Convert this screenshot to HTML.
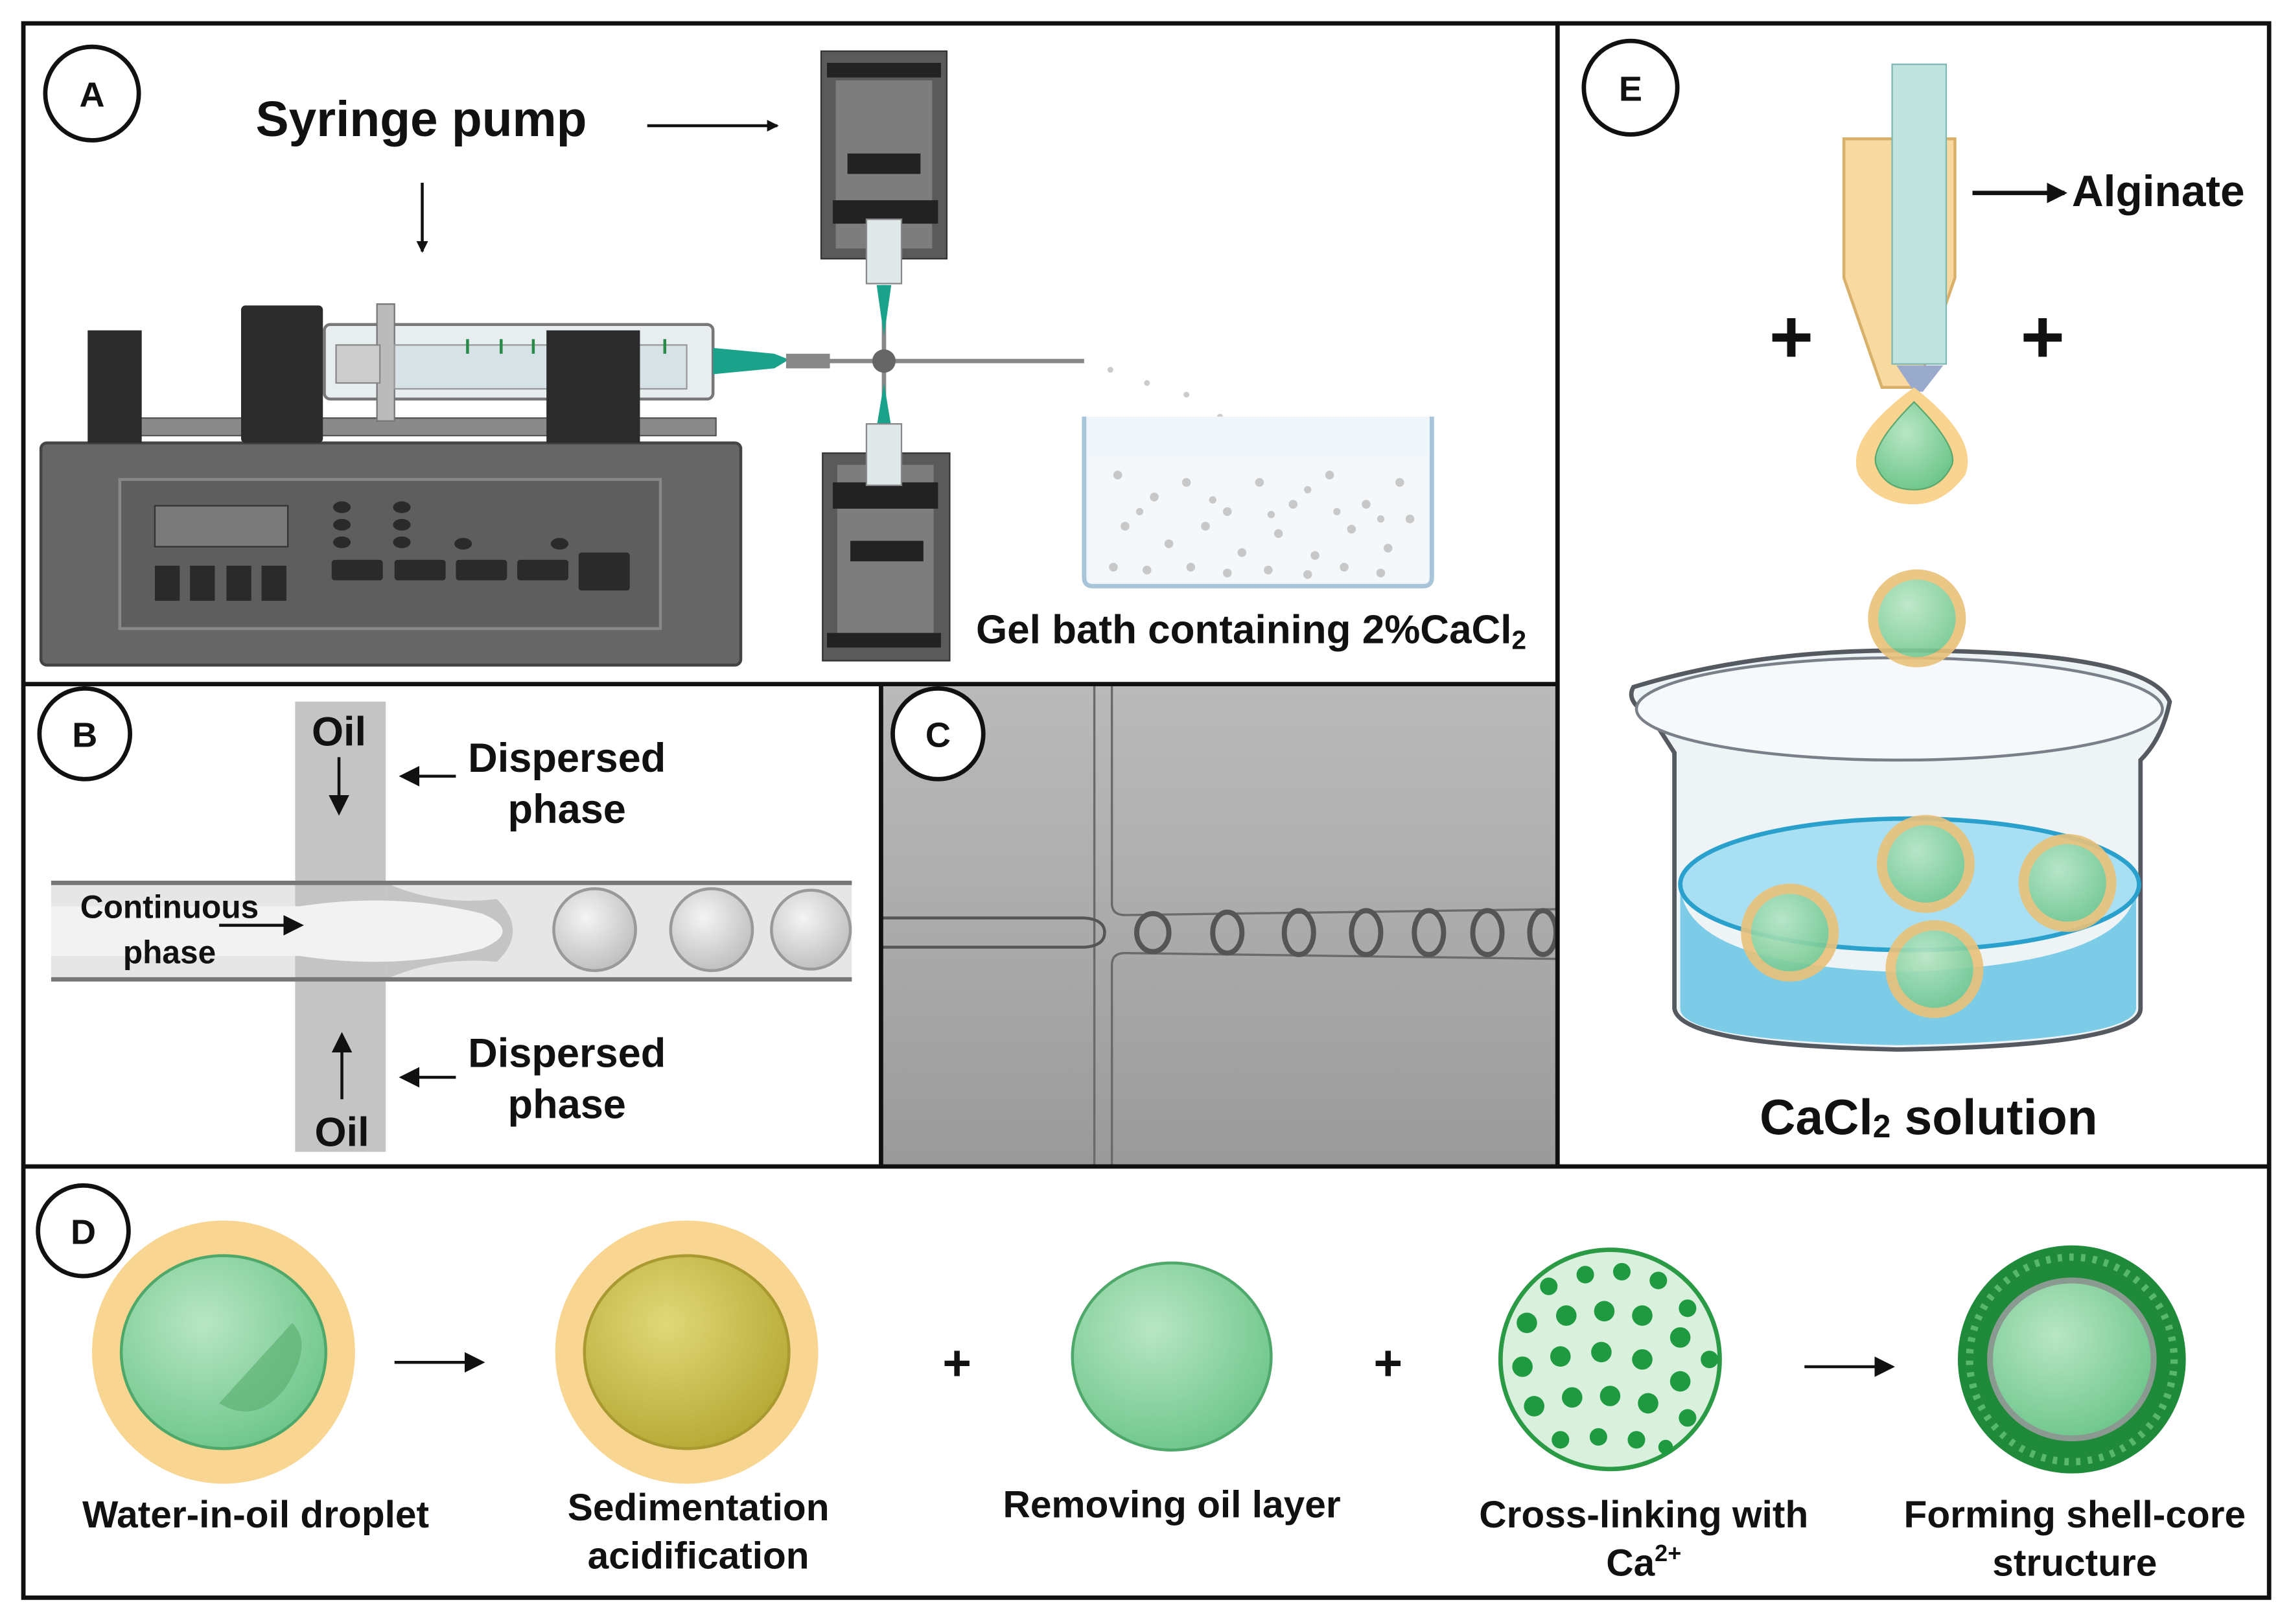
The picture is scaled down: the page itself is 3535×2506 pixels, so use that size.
<!DOCTYPE html>
<html><head><meta charset="utf-8"><style>html,body{margin:0;padding:0;background:#fff}svg{display:block}text{font-family:"Liberation Sans",sans-serif;font-weight:bold;fill:#111}</style></head>
<body>
<svg width="3535" height="2506" viewBox="0 0 1568 1111" preserveAspectRatio="none" xmlns="http://www.w3.org/2000/svg">
<defs>
<marker id="ah" markerWidth="8" markerHeight="8" refX="7" refY="4" orient="auto" markerUnits="userSpaceOnUse"><path d="M0,0 L8,4 L0,8 z" fill="#111"/></marker>
<marker id="ahb" markerWidth="14" markerHeight="14" refX="12" refY="7" orient="auto" markerUnits="userSpaceOnUse"><path d="M0,0 L14,7 L0,14 z" fill="#111"/></marker>
<radialGradient id="gr" cx="0.4" cy="0.35" r="0.7"><stop offset="0" stop-color="#b8e6c4"/><stop offset="1" stop-color="#6cc58a"/></radialGradient>
<radialGradient id="yl" cx="0.4" cy="0.35" r="0.7"><stop offset="0" stop-color="#e0d878"/><stop offset="1" stop-color="#b5a834"/></radialGradient>
<linearGradient id="cg" x1="0" y1="0" x2="0" y2="1"><stop offset="0" stop-color="#bababa"/><stop offset="0.5" stop-color="#ababab"/><stop offset="1" stop-color="#9a9a9a"/></linearGradient>
<radialGradient id="dr" cx="0.4" cy="0.35" r="0.7"><stop offset="0" stop-color="#f4f4f4"/><stop offset="1" stop-color="#bdbdbd"/></radialGradient>
</defs>
<rect width="1568" height="1111" fill="#fff"/>

<!-- Panel C background -->
<rect x="603" y="468" width="463" height="330" fill="url(#cg)"/>
<path d="M749,468 V798 M761,468 V618 Q761,626 770,626 L1066,622 M761,798 V660 Q761,652 770,652 L1066,656" stroke="#6a6a6a" stroke-width="1.5" fill="none"/>
<path d="M603,628 H742 Q756,629 756,638 Q756,647 742,648 H603" fill="none" stroke="#555" stroke-width="2"/>
<g fill="none" stroke="#555" stroke-width="3.5">
<ellipse cx="789" cy="638" rx="11" ry="13"/><ellipse cx="840" cy="638" rx="10" ry="14"/><ellipse cx="889" cy="638" rx="10" ry="15"/><ellipse cx="935" cy="638" rx="10" ry="15"/><ellipse cx="978" cy="638" rx="10" ry="15"/><ellipse cx="1018" cy="638" rx="10" ry="15"/><ellipse cx="1056" cy="638" rx="9" ry="15"/>
</g>

<!-- Panel borders -->
<g fill="none" stroke="#111" stroke-width="3">
<rect x="16" y="16" width="1537" height="1077"/>
<line x1="1066" y1="16" x2="1066" y2="798"/>
<line x1="16" y1="468" x2="1066" y2="468"/>
<line x1="603" y1="468" x2="603" y2="798"/>
<line x1="16" y1="798" x2="1553" y2="798"/>
</g>
<g fill="#fff" stroke="#111" stroke-width="3">
<circle cx="63" cy="64" r="32"/><circle cx="58" cy="502" r="31"/><circle cx="642" cy="502" r="31"/><circle cx="1116" cy="60" r="32"/><circle cx="57" cy="842" r="31"/>
</g>
<g font-size="24" text-anchor="middle"><text x="63" y="73">A</text><text x="58" y="511">B</text><text x="642" y="511">C</text><text x="1116" y="69">E</text><text x="57" y="851">D</text></g>

<!-- Panel A -->
<text x="175" y="93" font-size="34">Syringe pump</text>
<line x1="443" y1="86" x2="532" y2="86" stroke="#111" stroke-width="2" marker-end="url(#ah)"/>
<line x1="289" y1="125" x2="289" y2="172" stroke="#111" stroke-width="2" marker-end="url(#ah)"/>
<rect x="28" y="303" width="479" height="152" rx="4" fill="#666" stroke="#444" stroke-width="2"/>
<rect x="82" y="328" width="370" height="102" fill="#5e5e5e" stroke="#888" stroke-width="2"/>
<rect x="106" y="346" width="91" height="28" fill="#7a7a7a" stroke="#333"/>
<g fill="#2a2a2a"><rect x="106" y="387" width="17" height="24"/><rect x="130" y="387" width="17" height="24"/><rect x="155" y="387" width="17" height="24"/><rect x="179" y="387" width="17" height="24"/>
<rect x="227" y="383" width="35" height="14" rx="2"/><rect x="270" y="383" width="35" height="14" rx="2"/><rect x="312" y="383" width="35" height="14" rx="2"/><rect x="354" y="383" width="35" height="14" rx="2"/><rect x="396" y="378" width="35" height="26" rx="2"/>
<ellipse cx="234" cy="347" rx="6" ry="4"/><ellipse cx="234" cy="359" rx="6" ry="4"/><ellipse cx="234" cy="371" rx="6" ry="4"/><ellipse cx="275" cy="347" rx="6" ry="4"/><ellipse cx="275" cy="359" rx="6" ry="4"/><ellipse cx="275" cy="371" rx="6" ry="4"/><ellipse cx="317" cy="372" rx="6" ry="4"/><ellipse cx="383" cy="372" rx="6" ry="4"/></g>
<rect x="95" y="286" width="395" height="12" fill="#8a8a8a" stroke="#555"/>
<rect x="222" y="222" width="266" height="51" rx="4" fill="#e8eef0" stroke="#777" stroke-width="2"/>
<rect x="258" y="208" width="12" height="80" fill="#bbb" stroke="#777"/>
<rect x="230" y="236" width="30" height="26" fill="#ccc" stroke="#888"/>
<rect x="270" y="236" width="200" height="30" fill="#d7e2e6" stroke="#999"/>
<g stroke="#2a8a4a" stroke-width="2"><line x1="320" y1="232" x2="320" y2="242"/><line x1="343" y1="232" x2="343" y2="242"/><line x1="365" y1="232" x2="365" y2="242"/><line x1="455" y1="232" x2="455" y2="242"/></g>
<rect x="60" y="226" width="37" height="77" fill="#2b2b2b"/>
<rect x="165" y="209" width="56" height="94" rx="3" fill="#2b2b2b"/>
<rect x="374" y="226" width="64" height="77" fill="#2b2b2b"/>
<path d="M488,238 L530,242 L540,246 L530,252 L488,256 z" fill="#1aa38a"/>
<rect x="538" y="242" width="30" height="10" fill="#888"/>
<line x1="560" y1="247" x2="742" y2="247" stroke="#888" stroke-width="3"/>
<line x1="605" y1="195" x2="605" y2="295" stroke="#888" stroke-width="3"/>
<circle cx="605" cy="247" r="8" fill="#666"/>
<path d="M600,195 L605,230 L610,195 z" fill="#1aa38a"/><path d="M600,292 L605,262 L610,292 z" fill="#1aa38a"/>
<rect x="562" y="35" width="86" height="142" fill="#5a5a5a" stroke="#333"/><rect x="572" y="55" width="66" height="115" fill="#7d7d7d"/>
<rect x="566" y="43" width="78" height="10" fill="#222"/><rect x="580" y="105" width="50" height="14" fill="#222"/><rect x="570" y="137" width="72" height="16" fill="#222"/>
<rect x="593" y="150" width="24" height="44" fill="#e0e8ea" stroke="#888"/>
<rect x="563" y="310" width="87" height="142" fill="#5a5a5a" stroke="#333"/><rect x="573" y="318" width="66" height="115" fill="#7d7d7d"/>
<rect x="570" y="330" width="72" height="18" fill="#222"/><rect x="582" y="370" width="50" height="14" fill="#222"/><rect x="566" y="433" width="78" height="10" fill="#222"/>
<rect x="593" y="290" width="24" height="42" fill="#e0e8ea" stroke="#888"/>
<g fill="#ccc"><circle cx="760" cy="253" r="2"/><circle cx="785" cy="262" r="2"/><circle cx="812" cy="270" r="2"/><circle cx="835" cy="285" r="2"/><circle cx="858" cy="302" r="2.5"/></g>
<path d="M742,285 V395 Q742,401 748,401 H974 Q980,401 980,395 V285" fill="#eef6fb" stroke="#a8c4d8" stroke-width="3"/>
<rect x="745" y="312" width="232" height="86" fill="#f4f8fb"/>
<g fill="#c8c8c8">
<circle cx="765" cy="325" r="3"/><circle cx="790" cy="340" r="3"/><circle cx="812" cy="330" r="3"/><circle cx="840" cy="350" r="3"/><circle cx="862" cy="330" r="3"/><circle cx="885" cy="345" r="3"/><circle cx="910" cy="325" r="3"/><circle cx="935" cy="345" r="3"/><circle cx="958" cy="330" r="3"/>
<circle cx="770" cy="360" r="3"/><circle cx="800" cy="372" r="3"/><circle cx="825" cy="360" r="3"/><circle cx="850" cy="378" r="3"/><circle cx="875" cy="365" r="3"/><circle cx="900" cy="380" r="3"/><circle cx="925" cy="362" r="3"/><circle cx="950" cy="375" r="3"/><circle cx="965" cy="355" r="3"/>
<circle cx="762" cy="388" r="3"/><circle cx="785" cy="390" r="3"/><circle cx="815" cy="388" r="3"/><circle cx="840" cy="392" r="3"/><circle cx="868" cy="390" r="3"/><circle cx="895" cy="393" r="3"/><circle cx="920" cy="388" r="3"/><circle cx="945" cy="392" r="3"/>
<circle cx="780" cy="350" r="2.5"/><circle cx="830" cy="342" r="2.5"/><circle cx="870" cy="352" r="2.5"/><circle cx="915" cy="350" r="2.5"/><circle cx="945" cy="355" r="2.5"/><circle cx="895" cy="335" r="2.5"/>
</g>
<text x="668" y="440" font-size="27.5">Gel bath containing 2%CaCl<tspan font-size="18" dy="4">2</tspan></text>

<!-- Panel B -->
<rect x="202" y="480" width="62" height="308" fill="#c4c4c4"/>
<rect x="35" y="604" width="548" height="66" fill="#e6e6e6"/>
<rect x="202" y="604" width="62" height="66" fill="#c4c4c4"/>
<path d="M264,604 Q300,620 340,615 Q362,637 340,658 Q300,654 264,670 Z" fill="#c4c4c4"/>
<path d="M35,620 H205 Q270,610 330,625 Q358,637 330,649 Q270,664 205,654 H35 Z" fill="#f2f2f2"/>
<line x1="35" y1="604" x2="583" y2="604" stroke="#777" stroke-width="3"/><line x1="35" y1="670" x2="583" y2="670" stroke="#777" stroke-width="3"/>
<g stroke="#999" stroke-width="2" fill="url(#dr)"><circle cx="407" cy="636" r="28"/><circle cx="487" cy="636" r="28"/><circle cx="555" cy="636" r="27"/></g>
<g font-size="28" text-anchor="middle"><text x="232" y="510">Oil</text><text x="234" y="784">Oil</text>
<text x="388" y="528">Dispersed</text><text x="388" y="563">phase</text><text x="388" y="730">Dispersed</text><text x="388" y="765">phase</text></g>
<g font-size="22" text-anchor="middle"><text x="116" y="628">Continuous</text><text x="116" y="659">phase</text></g>
<g stroke="#111" stroke-width="2"><line x1="232" y1="518" x2="232" y2="556" marker-end="url(#ahb)"/><line x1="234" y1="752" x2="234" y2="708" marker-end="url(#ahb)"/>
<line x1="312" y1="531" x2="275" y2="531" marker-end="url(#ahb)"/><line x1="312" y1="737" x2="275" y2="737" marker-end="url(#ahb)"/>
<line x1="150" y1="633" x2="206" y2="633" marker-end="url(#ahb)"/></g>

<!-- Panel E -->
<path d="M1262,95 H1338 V190 L1312,265 H1288 L1262,190 Z" fill="#f8d9a0" stroke="#d9b06a" stroke-width="2"/>
<rect x="1295" y="44" width="37" height="205" fill="#bfe4e0" stroke="#7fb8b2"/>
<path d="M1298,250 H1330 L1316,268 H1310 Z" fill="#9ac"/>
<path d="M1310,265 Q1355,300 1345,325 Q1330,345 1310,345 Q1285,345 1272,325 Q1262,300 1310,265 Z" fill="#f8d490"/>
<path d="M1310,275 Q1340,305 1336,318 Q1328,335 1310,335 Q1290,335 1284,318 Q1280,305 1310,275 Z" fill="url(#gr)" stroke="#5aa870"/>
<text x="1418" y="141" font-size="30">Alginate</text>
<line x1="1350" y1="132" x2="1413" y2="132" stroke="#111" stroke-width="3" marker-end="url(#ahb)"/>
<g font-size="52" text-anchor="middle"><text x="1226" y="248">+</text><text x="1398" y="248">+</text></g>
<path d="M1130,490 Q1112,480 1118,470 Q1200,445 1300,445 Q1470,445 1485,480 Q1480,505 1465,520 V690 Q1465,715 1300,718 Q1150,715 1146,690 V515 Z" fill="#eef3f6" stroke="#555a60" stroke-width="3"/>
<ellipse cx="1300" cy="485" rx="180" ry="35" fill="#f6f9fb" stroke="#7a8088" stroke-width="2"/>
<path d="M1150,605 Q1152,660 1300,665 Q1462,660 1462,605 V690 Q1460,712 1300,715 Q1150,712 1150,690 Z" fill="#7ccce8"/>
<ellipse cx="1307" cy="605" rx="157" ry="45" fill="#a8dff2" stroke="#2aa0cc" stroke-width="3"/>
<g stroke="#e9c27a" stroke-width="7" fill="url(#gr)" opacity="0.9">
<circle cx="1312" cy="423" r="30"/><circle cx="1318" cy="591" r="30"/><circle cx="1415" cy="604" r="30"/><circle cx="1225" cy="638" r="30"/><circle cx="1324" cy="663" r="30"/></g>
<text x="1320" y="776" font-size="34" text-anchor="middle">CaCl<tspan font-size="22" dy="2">2</tspan><tspan dy="-2"> solution</tspan></text>

<!-- Panel D -->
<circle cx="153" cy="925" r="90" fill="#f8d590"/>
<ellipse cx="153" cy="925" rx="70" ry="66" fill="url(#gr)" stroke="#4ea86a" stroke-width="2"/>
<path d="M150,960 L200,905 Q215,920 195,950 Q175,975 150,960 Z" fill="#56ad6c" opacity="0.6"/>
<circle cx="470" cy="925" r="90" fill="#f8d590"/>
<ellipse cx="470" cy="925" rx="70" ry="66" fill="url(#yl)" stroke="#a89a30" stroke-width="2"/>
<ellipse cx="802" cy="928" rx="68" ry="64" fill="url(#gr)" stroke="#4ea86a" stroke-width="2"/>
<circle cx="1102" cy="930" r="75" fill="#d8f0dc" stroke="#2a9a45" stroke-width="3"/>
<g fill="#1f9a40">
<circle cx="1060" cy="880" r="6"/><circle cx="1085" cy="872" r="6"/><circle cx="1110" cy="870" r="6"/><circle cx="1135" cy="876" r="6"/><circle cx="1155" cy="895" r="6"/>
<circle cx="1045" cy="905" r="7"/><circle cx="1072" cy="900" r="7"/><circle cx="1098" cy="897" r="7"/><circle cx="1124" cy="900" r="7"/><circle cx="1150" cy="915" r="7"/><circle cx="1170" cy="930" r="6"/>
<circle cx="1042" cy="935" r="7"/><circle cx="1068" cy="928" r="7"/><circle cx="1096" cy="925" r="7"/><circle cx="1124" cy="930" r="7"/><circle cx="1150" cy="945" r="7"/>
<circle cx="1050" cy="962" r="7"/><circle cx="1076" cy="956" r="7"/><circle cx="1102" cy="955" r="7"/><circle cx="1128" cy="960" r="7"/><circle cx="1155" cy="970" r="6"/>
<circle cx="1068" cy="985" r="6"/><circle cx="1094" cy="983" r="6"/><circle cx="1120" cy="985" r="6"/><circle cx="1140" cy="990" r="5"/></g>
<circle cx="1418" cy="930" r="78" fill="#1f8a3a"/>
<circle cx="1418" cy="930" r="70" fill="none" stroke="#58b86a" stroke-width="5" stroke-dasharray="3 5"/>
<ellipse cx="1418" cy="930" rx="56" ry="54" fill="url(#gr)" stroke="#8a9a90" stroke-width="4"/>
<g stroke="#111" stroke-width="2"><line x1="270" y1="932" x2="330" y2="932" marker-end="url(#ahb)"/><line x1="1235" y1="935" x2="1295" y2="935" marker-end="url(#ahb)"/></g>
<g font-size="34" text-anchor="middle"><text x="655" y="944" font-weight="normal">+</text><text x="950" y="944" font-weight="normal">+</text></g>
<g font-size="26" text-anchor="middle">
<text x="175" y="1045">Water-in-oil droplet</text>
<text x="478" y="1040">Sedimentation</text><text x="478" y="1073">acidification</text>
<text x="802" y="1038">Removing oil layer</text>
<text x="1125" y="1045">Cross-linking with</text><text x="1125" y="1078">Ca<tspan font-size="16" dy="-10">2+</tspan></text>
<text x="1420" y="1045">Forming shell-core</text><text x="1420" y="1078">structure</text>
</g>
</svg>
</body></html>
